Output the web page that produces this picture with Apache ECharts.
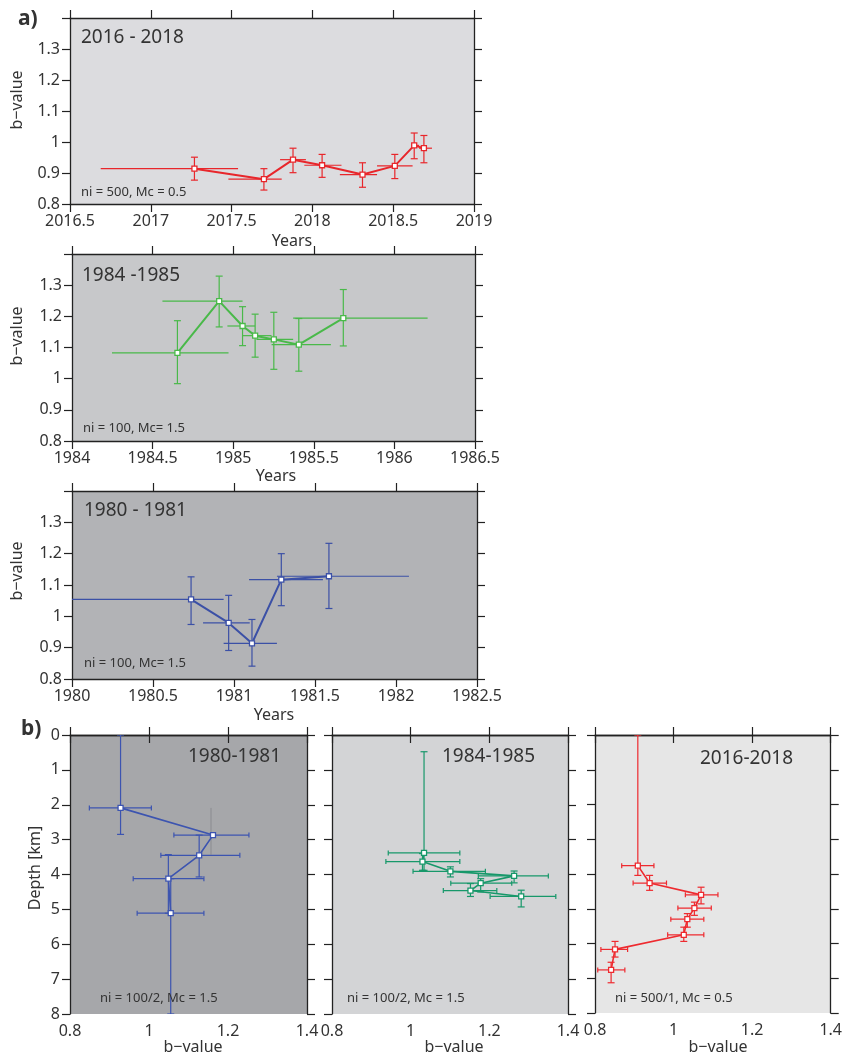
<!DOCTYPE html>
<html>
<head>
<meta charset="utf-8">
<script src="https://cdn.jsdelivr.net/npm/echarts@6/dist/echarts.min.js"></script>
<style>
  html, body { margin: 0; padding: 0; background: #fff; }
  #chart { width: 845px; height: 1064px; }
</style>
</head>
<body>
<div id="chart"></div>
<script>
// rows: [x, y, xLow, xHigh, yLow, yHigh]
// panel a: x = year, y = b-value
var time2016 = [
  [2017.27, 0.914, 2016.69, 2017.54, 0.877, 0.951],
  [2017.70, 0.880, 2017.48, 2017.81, 0.845, 0.914],
  [2017.88, 0.943, 2017.80, 2017.96, 0.901, 0.980],
  [2018.06, 0.925, 2017.95, 2018.18, 0.886, 0.960],
  [2018.31, 0.895, 2018.17, 2018.40, 0.854, 0.933],
  [2018.51, 0.923, 2018.40, 2018.62, 0.882, 0.960],
  [2018.63, 0.989, 2018.61, 2018.66, 0.946, 1.029],
  [2018.69, 0.980, 2018.66, 2018.74, 0.933, 1.021]
];
var time1984 = [
  [1984.654, 1.083, 1984.248, 1984.971, 0.984, 1.186],
  [1984.913, 1.249, 1984.561, 1985.058, 1.166, 1.329],
  [1985.058, 1.169, 1984.964, 1985.136, 1.106, 1.231],
  [1985.136, 1.138, 1985.058, 1985.238, 1.069, 1.207],
  [1985.252, 1.126, 1985.144, 1985.372, 1.030, 1.213],
  [1985.407, 1.109, 1985.238, 1985.606, 1.024, 1.193],
  [1985.683, 1.194, 1985.372, 1986.206, 1.105, 1.286]
];
var time1980 = [
  [1980.735, 1.054, 1980.000, 1980.936, 0.974, 1.126],
  [1980.967, 0.979, 1980.809, 1981.097, 0.891, 1.067],
  [1981.111, 0.914, 1980.936, 1981.265, 0.841, 0.990],
  [1981.292, 1.117, 1981.093, 1981.549, 1.034, 1.200],
  [1981.586, 1.128, 1981.265, 1982.080, 1.025, 1.233]
];
// panel b: x = b-value, y = depth [km]
var depth1980 = [
  [0.928, 2.09, 0.849, 1.006, 0.00, 2.85],
  [1.162, 2.87, 1.063, 1.253, 2.87, 2.87],
  [1.127, 3.45, 1.030, 1.230, 2.87, 4.07],
  [1.049, 4.12, 0.960, 1.139, 3.43, 5.11],
  [1.055, 5.11, 0.970, 1.139, 4.12, 8.00]
];
// thin grey depth bar in the 1980-1981 panel: [b, depthTop, depthBottom]
var greyBar1980 = [[1.157, 2.09, 3.43]];
var depth1984 = [
  [1.034, 3.38, 0.943, 1.125, 0.48, 3.88],
  [1.030, 3.63, 0.937, 1.125, 3.40, 3.88],
  [1.101, 3.91, 1.006, 1.190, 3.78, 4.07],
  [1.263, 4.04, 1.172, 1.350, 3.90, 4.24],
  [1.178, 4.25, 1.102, 1.257, 4.12, 4.50],
  [1.152, 4.46, 1.083, 1.219, 4.26, 4.63],
  [1.281, 4.63, 1.202, 1.369, 4.45, 4.93]
];
var depth2016 = [
  [0.909, 3.76, 0.868, 0.950, 0.00, 4.04],
  [0.939, 4.26, 0.897, 0.982, 4.04, 4.47],
  [1.070, 4.60, 1.030, 1.113, 4.38, 4.86],
  [1.053, 4.98, 1.011, 1.096, 4.81, 5.19],
  [1.035, 5.30, 0.993, 1.077, 5.14, 5.53],
  [1.026, 5.75, 0.985, 1.077, 5.53, 5.94],
  [0.851, 6.17, 0.815, 0.883, 5.94, 6.39],
  [0.841, 6.76, 0.807, 0.876, 6.54, 7.13]
];

var FONT = 'Noto Sans';
var INK = '#333';
var AX = '#222';

var panels = [
  { rows: time2016, color: '#e8262b', bg: '#dcdcdf', box: [70, 18, 404, 186],
    x: [2016.5, 2019, 0.5], y: [0.8, 1.4, 0.1], depth: false, yLab: true, lw: 2 },
  { rows: time1984, color: '#49b949', bg: '#c7c8ca', box: [72, 254, 403, 187],
    x: [1984, 1986.5, 0.5], y: [0.8, 1.4, 0.1], depth: false, yLab: true, lw: 2 },
  { rows: time1980, color: '#3b50a6', bg: '#b2b3b6', box: [72, 491, 405, 188],
    x: [1980, 1982.5, 0.5], y: [0.8, 1.4, 0.1], depth: false, yLab: true, lw: 2 },
  { rows: depth1980, color: '#3c54b0', bg: '#a6a7aa', box: [70, 735, 237, 279],
    x: [0.8, 1.4, 0.2], y: [0, 8, 1], depth: true, yLab: true, lw: 1.6 },
  { rows: depth1984, color: '#17986a', bg: '#d3d4d6', box: [332, 735, 236, 279],
    x: [0.8, 1.4, 0.2], y: [0, 8, 1], depth: true, yLab: false, lw: 1.6 },
  { rows: depth2016, color: '#ee2a2f', bg: '#e6e6e6', box: [595, 735, 237, 278],
    x: [0.8, 1.4, 0.2], y: [0, 8, 1], depth: true, yLab: false, lw: 1.6 }
];

function fmt(v) { return String(+v.toFixed(1)); }

function errorBars(withXCaps) {
  return function (params, api) {
    var c = api.coord([api.value(0), api.value(1)]);
    var l = api.coord([api.value(2), api.value(1)]);
    var r = api.coord([api.value(3), api.value(1)]);
    var lo = api.coord([api.value(0), api.value(4)]);
    var hi = api.coord([api.value(0), api.value(5)]);
    var st = { stroke: api.visual('color'), lineWidth: 1.2 };
    var cy = 3.5, cx = 2.5;
    var ch = [
      { type: 'line', shape: { x1: l[0], y1: c[1], x2: r[0], y2: c[1] }, style: st }
    ];
    if (api.value(4) !== api.value(5)) {
      ch.push({ type: 'line', shape: { x1: c[0], y1: lo[1], x2: c[0], y2: hi[1] }, style: st });
      ch.push({ type: 'line', shape: { x1: c[0] - cy, y1: lo[1], x2: c[0] + cy, y2: lo[1] }, style: st });
      ch.push({ type: 'line', shape: { x1: c[0] - cy, y1: hi[1], x2: c[0] + cy, y2: hi[1] }, style: st });
    }
    if (withXCaps) {
      ch.push({ type: 'line', shape: { x1: l[0], y1: c[1] - cx, x2: l[0], y2: c[1] + cx }, style: st });
      ch.push({ type: 'line', shape: { x1: r[0], y1: c[1] - cx, x2: r[0], y2: c[1] + cx }, style: st });
    }
    return { type: 'group', children: ch };
  };
}

var grid = [], xAxis = [], yAxis = [], series = [];

panels.forEach(function (p, i) {
  grid.push({
    left: p.box[0], top: p.box[1], width: p.box[2], height: p.box[3],
    show: true, backgroundColor: p.bg, borderWidth: 0
  });
  var tick = { show: true, inside: false, length: 8, lineStyle: { color: AX, width: 1.2 } };
  var line = { show: true, lineStyle: { color: AX, width: 1.3 } };
  ['bottom', 'top'].forEach(function (pos) {
    xAxis.push({
      type: 'value', gridIndex: i, position: pos,
      min: p.x[0], max: p.x[1], interval: p.x[2],
      axisLine: line, axisTick: tick, splitLine: { show: false },
      axisLabel: {
        show: pos === 'bottom', formatter: fmt, color: INK,
        fontFamily: FONT, fontSize: 16, margin: 9, hideOverlap: false
      }
    });
  });
  ['left', 'right'].forEach(function (pos) {
    yAxis.push({
      type: 'value', gridIndex: i, position: pos, inverse: p.depth,
      min: p.y[0], max: p.y[1], interval: p.y[2],
      axisLine: line, axisTick: tick, splitLine: { show: false },
      axisLabel: {
        show: pos === 'left' && p.yLab, color: INK,
        fontFamily: FONT, fontSize: 16, margin: 10, hideOverlap: false,
        formatter: function (v) { return (!p.depth && v > 1.35) ? '' : fmt(v); }
      }
    });
  });
  series.push({
    type: 'custom', xAxisIndex: 2 * i, yAxisIndex: 2 * i,
    renderItem: errorBars(p.depth), clip: true,
    itemStyle: { color: p.color },
    encode: { x: [0, 2, 3], y: [1, 4, 5] },
    data: p.rows, z: 2
  });
  series.push({
    type: 'line', xAxisIndex: 2 * i, yAxisIndex: 2 * i,
    data: p.rows.map(function (r) { return [r[0], r[1]]; }),
    symbol: 'rect', symbolSize: 5, showSymbol: true,
    lineStyle: { color: p.color, width: p.lw },
    itemStyle: { color: '#fff', borderColor: p.color, borderWidth: 1.3 },
    z: 3
  });
});

// grey bar in panel b 1980-1981 (axes index 6)
series.push({
  type: 'custom', xAxisIndex: 6, yAxisIndex: 6, clip: true, z: 1,
  encode: { x: 0, y: [1, 2] },
  data: greyBar1980,
  renderItem: function (params, api) {
    var a = api.coord([api.value(0), api.value(1)]);
    var b = api.coord([api.value(0), api.value(2)]);
    return { type: 'line', shape: { x1: a[0], y1: a[1], x2: b[0], y2: b[1] },
      style: { stroke: '#8a8b90', lineWidth: 1 } };
  }
});

function txt(s, x, y, size, opt) {
  opt = opt || {};
  return {
    type: 'text', x: x, y: y, rotation: opt.rot || 0, z: 10,
    style: {
      text: s, fill: INK,
      font: (opt.bold ? 'bold ' : '') + size + 'px "' + FONT + '"',
      textAlign: opt.align || 'left', align: opt.align || 'left',
      textVerticalAlign: 'middle', verticalAlign: 'middle'
    }
  };
}

var graphic = [
  txt('a)', 18, 19, 21, { bold: true }),
  txt('b)', 21, 729, 21, { bold: true }),
  txt('2016 - 2018', 81, 38, 19),
  txt('ni = 500, Mc = 0.5', 81, 192.5, 13),
  txt('Years', 292, 241, 16, { align: 'center' }),
  txt('b\u2212value', 17, 100, 16, { align: 'center', rot: Math.PI / 2 }),
  txt('1984 -1985', 82, 276, 19),
  txt('ni = 100, Mc= 1.5', 83, 428.5, 13),
  txt('Years', 276, 476, 16, { align: 'center' }),
  txt('b\u2212value', 17, 336, 16, { align: 'center', rot: Math.PI / 2 }),
  txt('1980 - 1981', 84, 510.5, 19),
  txt('ni = 100, Mc= 1.5', 84, 663.5, 13),
  txt('Years', 274, 715, 16, { align: 'center' }),
  txt('b\u2212value', 17, 571, 16, { align: 'center', rot: Math.PI / 2 }),
  txt('1980-1981', 188, 757, 19),
  txt('1984-1985', 442, 757, 19),
  txt('2016-2018', 700, 759, 19),
  txt('ni = 100/2, Mc = 1.5', 100, 998, 13),
  txt('ni = 100/2, Mc = 1.5', 347, 998.5, 13),
  txt('ni = 500/1, Mc = 0.5', 615, 998.5, 13),
  txt('Depth [km]', 35, 868, 16, { align: 'center', rot: Math.PI / 2 }),
  txt('b\u2212value', 193, 1047, 16, { align: 'center' }),
  txt('b\u2212value', 454, 1047, 16, { align: 'center' }),
  txt('b\u2212value', 718, 1047, 16, { align: 'center' })
];

var chart = echarts.init(document.getElementById('chart'));
chart.setOption({
  animation: false,
  backgroundColor: '#fff',
  grid: grid,
  xAxis: xAxis,
  yAxis: yAxis,
  series: series,
  graphic: graphic
});
</script>
</body>
</html>
